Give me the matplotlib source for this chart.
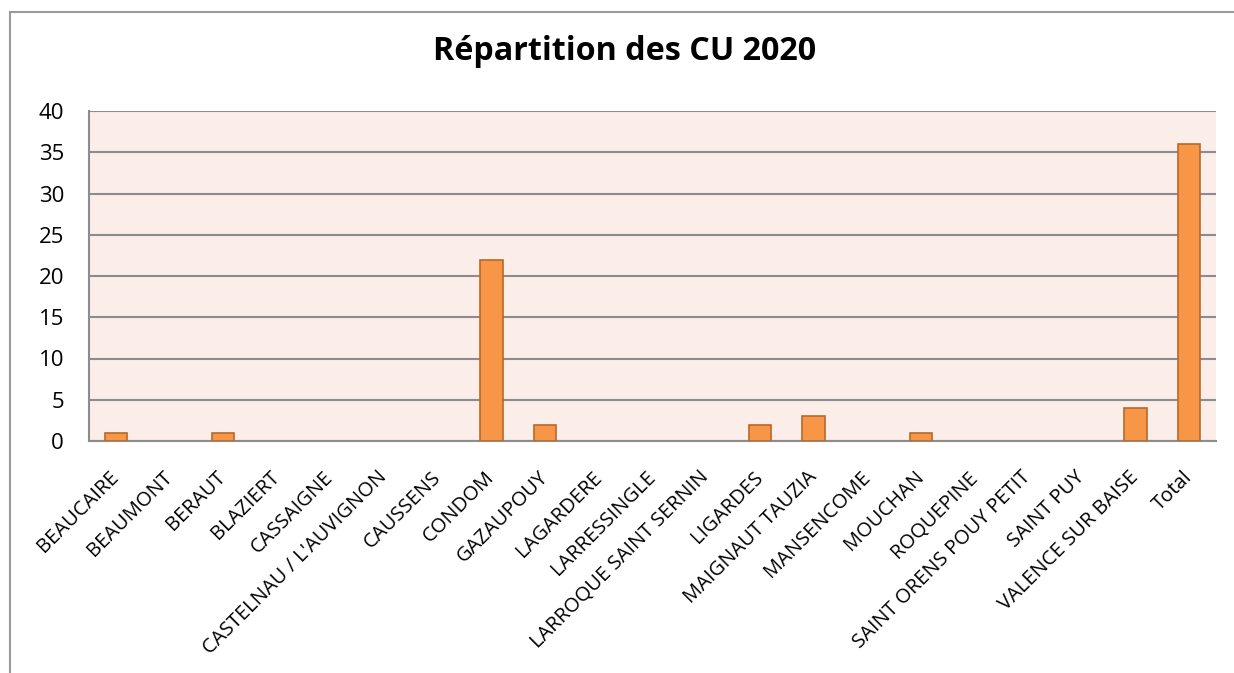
import matplotlib
matplotlib.use("Agg")
import matplotlib.pyplot as plt
from matplotlib.lines import Line2D

communes = [
    "BEAUCAIRE", "BEAUMONT", "BERAUT", "BLAZIERT", "CASSAIGNE",
    "CASTELNAU / L'AUVIGNON", "CAUSSENS", "CONDOM", "GAZAUPOUY",
    "LAGARDERE", "LARRESSINGLE", "LARROQUE SAINT SERNIN", "LIGARDES",
    "MAIGNAUT TAUZIA", "MANSENCOME", "MOUCHAN", "ROQUEPINE",
    "SAINT ORENS POUY PETIT", "SAINT PUY", "VALENCE SUR BAISE", "Total",
]
nb_cu = [1, 0, 1, 0, 0, 0, 0, 22, 2, 0, 0, 0, 2, 3, 0, 1, 0, 0, 0, 4, 36]
y_ticks = [0, 5, 10, 15, 20, 25, 30, 35, 40]

plt.rcParams["font.family"] = ["Open Sans", "DejaVu Sans"]

W, H = 1234, 673
fig = plt.figure(figsize=(W / 100, H / 100), dpi=100)

# chart frame: only the top and left edges are inside the image
frame_top = 1 - 11.5 / H
frame_left = 9.5 / W
fig.lines.append(Line2D([frame_left, 1.01], [frame_top, frame_top],
                        transform=fig.transFigure, color="#9a9a9a", lw=1.5))
fig.lines.append(Line2D([frame_left, frame_left], [-0.01, frame_top],
                        transform=fig.transFigure, color="#9a9a9a", lw=1.5))

ax = fig.add_axes([89 / W, 1 - 441 / H, (1216 - 89) / W, (441 - 111) / H])
ax.set_facecolor("#fbede8")

x = list(range(len(communes)))
# no outline on empty bars, Excel draws nothing there
edges = ["#b8692c" if v > 0 else "none" for v in nb_cu]
ax.bar(x, nb_cu, width=0.41, color="#f79646", edgecolor=edges,
       linewidth=1.2, zorder=3)

ax.set_xlim(-0.5, len(communes) - 0.5)
ax.set_ylim(0, 40)
ax.set_yticks(y_ticks)
ax.yaxis.grid(True, color="#8c8c8c", linewidth=1.5, zorder=1)
ax.set_axisbelow(True)

ax.set_xticks(x)
ax.set_xticklabels(communes, rotation=45, ha="right", va="center",
                   rotation_mode="anchor", fontsize=14.5)
ax.tick_params(axis="both", length=0)
ax.tick_params(axis="x", pad=24)
ax.tick_params(axis="y", labelsize=16, pad=18)

for side in ["top", "right"]:
    ax.spines[side].set_visible(False)
for side in ["left", "bottom"]:
    ax.spines[side].set_color("#8c8c8c")
    ax.spines[side].set_linewidth(1.5)

fig.text(625 / W, 1 - 52 / H, "Répartition des CU 2020", ha="center",
         va="center", fontsize=23.2, fontweight="bold")

fig.savefig("out.png", dpi=100)
